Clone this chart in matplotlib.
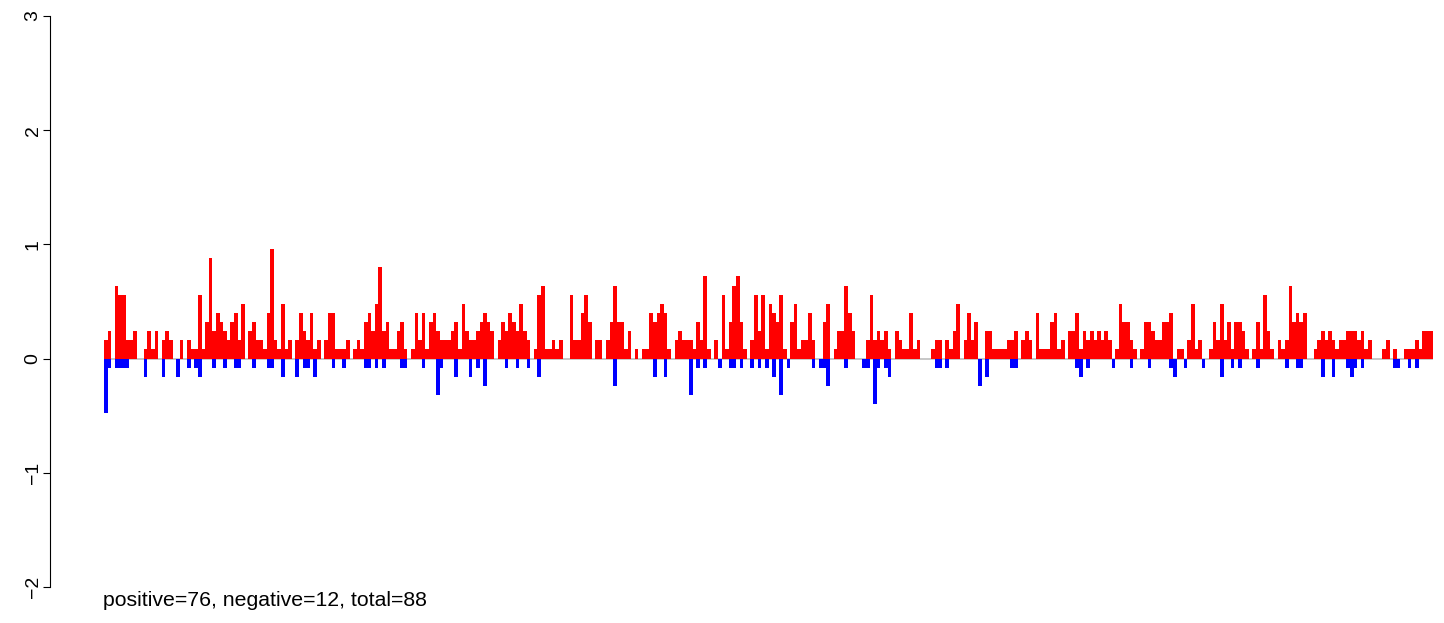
import matplotlib
matplotlib.use("Agg")
import matplotlib.pyplot as plt
import numpy as np

# bar heights (positive series, red)
positive = [
    0.16,0.24,0,0.64,0.56,0.56,0.16,0.16,0.24,0,0,0.08,0.24,0.08,0.24,0,0.16,0.24,0.16,0,0,0.16,0,0.16,0.08,0.08,0.56,0.08,0.32,0.88,
    0.24,0.4,0.32,0.24,0.16,0.32,0.4,0.16,0.48,0,0.24,0.32,0.16,0.16,0.08,0.4,0.96,0.16,0.08,0.48,0.08,0.16,0,0.16,0.4,0.24,0.16,0.4,0.08,0.16,
    0,0.16,0.4,0.4,0.08,0.08,0.08,0.16,0,0.08,0.16,0.08,0.32,0.4,0.24,0.48,0.8,0.24,0.32,0.08,0.08,0.24,0.32,0.08,0,0.08,0.4,0.16,0.4,0.08,0.32,
    0.4,0.24,0.16,0.16,0.16,0.24,0.32,0.08,0.48,0.24,0.16,0.16,0.24,0.32,0.4,0.32,0.24,0,0.16,0.32,0.24,0.4,0.32,0.24,0.48,0.24,0.16,0,0.08,0.56,0.64,
    0.08,0.08,0.16,0.08,0.16,0,0,0.56,0.16,0.16,0.4,0.56,0.32,0,0.16,0.16,0,0.16,0.32,0.64,0.32,0.32,0.08,0.24,0,0.08,0,0.08,0.08,0.4,
    0.32,0.4,0.48,0.4,0.08,0,0.16,0.24,0.16,0.16,0.16,0.08,0.32,0.16,0.72,0.08,0,0.16,0,0.56,0.08,0.32,0.64,0.72,0.32,0.08,0,0.16,0.56,0.24,0.56,
    0.08,0.48,0.4,0.32,0.56,0.08,0,0.32,0.48,0.08,0.16,0.16,0.4,0.16,0,0,0.32,0.48,0,0.08,0.24,0.24,0.64,0.4,0.24,0,0,0,0.16,0.56,
    0.16,0.24,0.16,0.24,0.08,0,0.24,0.16,0.08,0.08,0.4,0.08,0.16,0,0,0,0.08,0.16,0.16,0,0.16,0.08,0.24,0.48,0,0.16,0.4,0.16,0.32,0,
    0,0.24,0.24,0.08,0.08,0.08,0.08,0.16,0.16,0.24,0,0.16,0.24,0.16,0,0.4,0.08,0.08,0.08,0.32,0.4,0.08,0.16,0,0.24,0.24,0.4,0.08,0.24,0.16,0.24,
    0.16,0.24,0.16,0.24,0.16,0,0.08,0.48,0.32,0.32,0.16,0.08,0,0.08,0.32,0.32,0.24,0.16,0.16,0.32,0.32,0.4,0,0.08,0.08,0,0.16,0.48,0.08,0.16,
    0,0,0.08,0.32,0.16,0.48,0.16,0.32,0.08,0.32,0.32,0.24,0.08,0,0.08,0.32,0.08,0.56,0.24,0.08,0,0.16,0.08,0.16,0.64,0.32,0.4,0.32,0.4,0,0,
    0.08,0.16,0.24,0.16,0.24,0.16,0.08,0.16,0.16,0.24,0.24,0.24,0.16,0.24,0.08,0.16,0,0,0,0.08,0.16,0,0.08,0,0,0.08,0.08,0.08,0.16,0.08,0.24,0.24,0.24,
]

# bar heights (negative series, blue)
negative = [
    -0.48,-0.08,0,-0.08,-0.08,-0.08,-0.08,0,0,0,0,-0.16,0,0,0,0,-0.16,0,0,0,-0.16,0,0,-0.08,0,-0.08,-0.16,0,0,0,
    -0.08,0,0,-0.08,0,0,-0.08,-0.08,0,0,0,-0.08,0,0,0,-0.08,-0.08,0,0,-0.16,0,0,0,-0.16,0,-0.08,-0.08,0,-0.16,0,
    0,0,0,-0.08,0,0,-0.08,0,0,0,0,0,-0.08,-0.08,0,-0.08,0,-0.08,0,0,0,0,-0.08,-0.08,0,0,0,0,-0.08,0,0,
    0,-0.32,-0.08,0,0,0,-0.16,0,0,0,-0.16,0,-0.08,0,-0.24,0,0,0,0,0,-0.08,0,0,-0.08,0,0,-0.08,0,0,-0.16,0,
    0,0,0,0,0,0,0,0,0,0,0,0,0,0,0,0,0,0,0,-0.24,0,0,0,0,0,0,0,0,0,0,
    -0.16,0,0,-0.16,0,0,0,0,0,0,-0.32,0,-0.08,0,-0.08,0,0,0,-0.08,0,0,-0.08,-0.08,0,-0.08,0,0,-0.08,0,-0.08,0,
    -0.08,0,-0.16,0,-0.32,0,-0.08,0,0,0,0,0,0,-0.08,0,-0.08,-0.08,-0.24,0,0,0,0,-0.08,0,0,0,0,-0.08,-0.08,0,
    -0.4,-0.08,0,-0.08,-0.16,0,0,0,0,0,0,0,0,0,0,0,0,-0.08,-0.08,0,-0.08,0,0,0,0,0,0,0,0,-0.24,
    0,-0.16,0,0,0,0,0,0,-0.08,-0.08,0,0,0,0,0,0,0,0,0,0,0,0,0,0,0,0,-0.08,-0.16,0,-0.08,0,
    0,0,0,0,0,-0.08,0,0,0,0,-0.08,0,0,0,0,-0.08,0,0,0,0,0,-0.08,-0.16,0,0,-0.08,0,0,0,0,
    -0.08,0,0,0,0,-0.16,0,0,-0.08,0,-0.08,0,0,0,0,-0.08,0,0,0,0,0,0,0,-0.08,0,0,-0.08,-0.08,0,0,0,
    0,0,-0.16,0,0,-0.16,0,0,0,-0.08,-0.16,-0.08,0,-0.08,0,0,0,0,0,0,0,0,-0.08,-0.08,0,0,-0.08,0,-0.08,0,0,0,0,
]

y_ticks = [-2, -1, 0, 1, 2, 3]
y_tick_labels = ["\u22122", "\u22121", "0", "1", "2", "3"]
summary_text = "positive=76, negative=12, total=88"

plt.rcParams['font.family'] = ['Liberation Sans', 'DejaVu Sans']

W, H = 1444, 623
fig = plt.figure(figsize=(W / 100, H / 100), dpi=100)
n = len(positive)

bar_px0, bar_px1 = 104, 1433
ax_px0, ax_px1 = 50, 1440
upp = n / (bar_px1 - bar_px0)
ax = fig.add_axes([ax_px0 / W, 36 / H, (ax_px1 - ax_px0) / W, 571 / H])
ax.set_xlim(-(bar_px0 - ax_px0) * upp, n + (ax_px1 - bar_px1) * upp)
ax.set_ylim(-2, 3)

x = np.arange(n)
ax.hlines(0, 0, n, color='#BEBEBE', lw=1.2, zorder=1)
ax.bar(x, positive, width=1.0, align='edge', color='#FF0000', linewidth=0, zorder=2)
ax.bar(x, negative, width=1.0, align='edge', color='#0000FF', linewidth=0, zorder=2)

for s in ['top', 'right', 'bottom']:
    ax.spines[s].set_visible(False)
ax.spines['left'].set_bounds(-2, 3)
ax.spines['left'].set_linewidth(0.8)
ax.set_xticks([])
ax.set_yticks(y_ticks)
ax.set_yticklabels(y_tick_labels, rotation=90, va='center')
ax.tick_params(axis='y', length=5, width=0.8, pad=1, labelsize=14)
ax.patch.set_visible(False)

fig.text(103 / W, 1 - 601 / H, summary_text, fontsize=15.3, ha='left', va='center')
fig.savefig('out.png', dpi=100)
